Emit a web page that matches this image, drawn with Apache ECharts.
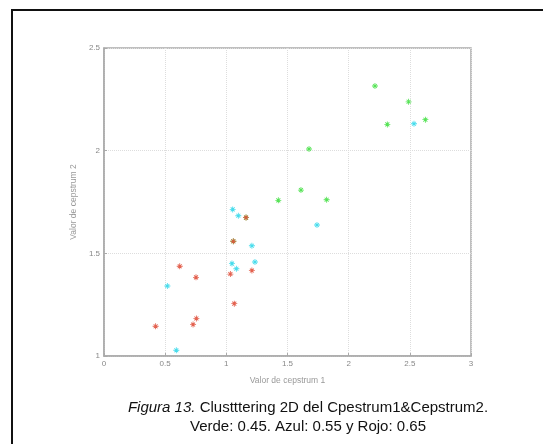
<!DOCTYPE html>
<html>
<head>
<meta charset="UTF-8">
<title>Clustering 2D</title>
<script src="https://cdn.jsdelivr.net/npm/echarts@6/dist/echarts.min.js"></script>
<style>
	html, body{
		margin:0;
		padding:0;
		background:#fff;
	}
	#frame{
		position:absolute;
		left:11px;
		top:9px;
		width:540px;
		height:440px;
		border-left:2px solid #111;
		border-top:2px solid #111;
	}
	#chart{
		position:absolute;
		left:0;
		top:0;
		width:543px;
		height:444px;
	}
</style>
</head>
<body>
<div id="frame"></div>
<div id="chart"></div>
<script>
	// puntos [cepstrum1, cepstrum2]
	var verde = [
		[2.215, 2.315], [2.49, 2.238], [2.316, 2.128], [2.627, 2.151],
		[1.676, 2.008], [1.610, 1.808], [1.820, 1.761], [1.425, 1.758],
		[1.161, 1.674], [1.057, 1.559]
	];
	var azul = [
		[2.534, 2.131], [1.741, 1.638], [1.052, 1.714], [1.098, 1.683],
		[1.209, 1.537], [1.046, 1.450], [1.234, 1.458], [1.082, 1.425],
		[0.518, 1.341], [0.591, 1.028]
	];
	var rojo = [
		[1.161, 1.674], [1.057, 1.559], [1.033, 1.399], [1.209, 1.416],
		[0.619, 1.437], [0.752, 1.383], [1.065, 1.255], [0.755, 1.183],
		[0.728, 1.153], [0.422, 1.145]
	];
	var xTicks = ["0", "0.5", "1", "1.5", "2", "2.5", "3"];
	var yTicks = ["1", "1.5", "2", "2.5"];

	var star = 'path://M-0.7,-5L0.7,-5L0.7,5L-0.7,5Z M-5,-0.7L5,-0.7L5,0.7L-5,0.7Z M-3.8,-2.8L-2.8,-3.8L3.8,2.8L2.8,3.8Z M2.8,-3.8L3.8,-2.8L-2.8,3.8L-3.8,2.8Z';

	var myChart = echarts.init(document.getElementById("chart"));

	function serie(name, data, color){
		return {
			name:name,
			type:"scatter",
			data:data,
			symbol:star,
			symbolSize:6,
			itemStyle:{color:color, opacity:0.9},
			silent:true
		};
	}

	var option = {
		animation:false,
		title:{
			text:"{i|Figura 13.} Clustttering 2D del Cpestrum1&Cepstrum2.\nVerde: 0.45. Azul: 0.55 y Rojo: 0.65",
			left:303,
			top:393,
			textAlign:"center",
			textStyle:{
				fontFamily:"Liberation Sans",
				fontSize:15,
				fontWeight:"normal",
				color:"#111",
				lineHeight:19,
				rich:{
					i:{fontStyle:"italic", fontFamily:"Liberation Sans", fontSize:15, color:"#111"}
				}
			}
		},
		grid:{
			left:104,
			top:48,
			width:367,
			height:308,
			show:true,
			borderColor:"#aaa",
			borderWidth:1.5,
			backgroundColor:"#fff"
		},
		xAxis:{
			type:"value",
			min:0,
			max:3,
			interval:0.5,
			name:"Valor de cepstrum 1",
			nameLocation:"middle",
			nameGap:20,
			nameTextStyle:{color:"#999", fontSize:8.5, fontFamily:"Liberation Sans"},
			axisLine:{show:true, lineStyle:{color:"#aaa", width:1.5}},
			axisTick:{show:true, inside:true, length:3, lineStyle:{color:"#aaa"}},
			axisLabel:{
				color:"#888",
				fontSize:8,
				margin:4,
				fontFamily:"Liberation Sans",
				formatter:function(v){ return xTicks[Math.round(v / 0.5)]; }
			},
			splitLine:{show:true, lineStyle:{color:"#ddd", type:"dotted"}}
		},
		yAxis:{
			type:"value",
			min:1,
			max:2.5,
			interval:0.5,
			name:"Valor de cepstrum 2",
			nameLocation:"middle",
			nameGap:20,
			nameTextStyle:{color:"#999", fontSize:8.5, fontFamily:"Liberation Sans"},
			axisLine:{show:true, lineStyle:{color:"#aaa", width:1.5}},
			axisTick:{show:true, inside:true, length:3, lineStyle:{color:"#aaa"}},
			axisLabel:{
				color:"#888",
				fontSize:8,
				margin:4,
				fontFamily:"Liberation Sans",
				formatter:function(v){ return yTicks[Math.round((v - 1) / 0.5)]; }
			},
			splitLine:{show:true, lineStyle:{color:"#ddd", type:"dotted"}}
		},
		series:[
			serie("Verde", verde, "#44e044"),
			serie("Azul", azul, "#33d8ea"),
			serie("Rojo", rojo, "#e0503c")
		]
	};
	myChart.setOption(option);
</script>
</body>
</html>
